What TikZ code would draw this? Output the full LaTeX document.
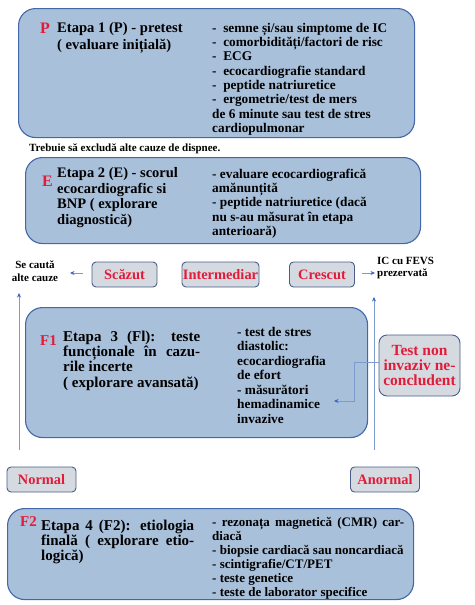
\documentclass[tikz,border=0pt]{standalone}
\usepackage{fontspec}
\setmainfont{Liberation Serif}
\usetikzlibrary{arrows.meta}
\definecolor{boxfill}{HTML}{A9C0DA}
\definecolor{boxdraw}{HTML}{4466AA}
\definecolor{smallfill}{HTML}{D5D9E0}
\definecolor{smalldraw}{HTML}{4A5E8C}
\definecolor{redtxt}{HTML}{E31B3A}
\definecolor{linec}{HTML}{7D9BD0}
\definecolor{tipc}{HTML}{3A62C8}
\newcommand{\fs}[2]{\fontsize{#1}{#2}\selectfont\bfseries}
\begin{document}
\begin{tikzpicture}[x=1pt,y=-1pt,
  stage/.style={draw=boxdraw, fill=boxfill, rounded corners=17pt, line width=1.1pt, anchor=north west, inner sep=0},
  smallbox/.style={draw=smalldraw, fill=smallfill, rounded corners=4pt, line width=0.9pt, text=redtxt, font=\fs{14.4}{16}, inner sep=0, minimum height=25pt},
  letter/.style={text=redtxt, anchor=base west, inner sep=0},
  ttl/.style={anchor=north west, align=left, inner sep=0},
  lst/.style={anchor=north west, align=left, inner sep=0, font=\fs{13.3}{14.3}},
  note/.style={inner sep=0, font=\fs{11}{12.5}},
  conn/.style={draw=linec, line width=0.8pt, -{Stealth[length=4.5pt,width=4pt,color=tipc]}}
]
\useasboundingbox (0,0) rectangle (474,605);

% Stage 1
\node[stage, minimum width=396pt, minimum height=129pt] (s1) at (18,8) {};
\node[letter, font=\fs{16}{18}] (p) at (40,33) {P};
\node[ttl, font=\fs{14.6}{17}] (t1) at (57,22.5) {Etapa 1 (P) - pretest\\( evaluare inițială)};
\node[lst] (l1) at (212,22.8) {-\ \ semne și/sau simptome de IC\\-\ \ comorbidități/factori de risc\\-\ \ ECG\\-\ \ ecocardiografie standard\\-\ \ peptide natriuretice\\-\ \ ergometrie/test de mers\\de 6 minute sau test de stres\\cardiopulmonar};

\node[note, anchor=base west] (trebuie) at (29,151.5) {Trebuie să excludă alte cauze de dispnee.};

% Stage 2
\node[stage, minimum width=395pt, minimum height=86pt] (s2) at (25,157) {};
\node[letter, font=\fs{16}{18}] (e) at (42,186) {E};
\node[ttl, font=\fs{14.5}{15.5}] (t2) at (57,167.6) {Etapa 2 (E) - scorul\\ecocardiografic si\\BNP ( explorare\\diagnostică)};
\node[lst] (l2) at (212,168.8) {- evaluare ecocardiografică\\amănunțită\\- peptide natriuretice (dacă\\nu s-au măsurat în etapa\\anterioară)};

% Result row
\node[smallbox, minimum width=65pt] (scazut) at (124.5,274.5) {Scăzut};
\node[smallbox, minimum width=77pt] (interm) at (220.5,274.5) {Intermediar};
\node[smallbox, minimum width=65pt] (crescut) at (322,274.5) {Crescut};
\node[note, align=center] (secauta) at (35,271) {Se caută\\alte cauze};
\node[note, align=left, anchor=west] (icfevs) at (377,268) {IC cu FEVS\\prezervată};
\coordinate (a1s) at (83,273);
\coordinate (a1e) at (70,273);
\draw[conn] (a1s) -- (a1e);
\coordinate (a2s) at (362,273);
\coordinate (a2e) at (375,273);
\draw[conn] (a2s) -- (a2e);

% vertical arrows
\coordinate (vl1) at (19,450);
\coordinate (vl2) at (19,293);
\draw[conn] (vl1) -- (vl2);
\coordinate (vr1) at (374,450);
\coordinate (vr2) at (374,297);
\draw[conn] (vr1) -- (vr2);

% Stage 3
\node[stage, minimum width=342pt, minimum height=130pt] (s3) at (25,307) {};
\node[letter, font=\fs{15}{17}] (f1) at (40,345) {F1};
\node[ttl, font=\fs{15}{15.3}] (t3) at (63,330.5) {\makebox[137pt][s]{Etapa 3 (Fl): teste}\\\makebox[137pt][s]{funcționale în cazu-}\\rile incerte\\( explorare avansată)};
\node[lst, font=\fs{13.3}{14.5}] (l3) at (237,326.8) {- test de stres\\diastolic:\\ecocardiografia\\de efort\\- măsurători\\hemadinamice\\invazive};

\node[smallbox, minimum width=81pt, minimum height=61pt, align=center, font=\fs{15.5}{15}, rounded corners=8pt] (test) at (419.5,365.5) {Test non\\invaziv ne-\\concludent};
\coordinate (tend) at (334,401);
\draw[conn] ([yshift=3.5pt]test.west) -- ++(-24,0) |- (tend);

% Normal / Anormal
\node[smallbox, minimum width=69pt] (normal) at (41.5,479.5) {Normal};
\node[smallbox, minimum width=69pt] (anormal) at (385,479.5) {Anormal};

% Stage 4
\node[stage, minimum width=406pt, minimum height=91pt] (s4) at (7,508) {};
\node[letter, font=\fs{15}{17}] (f2) at (20,526) {F2};
\node[ttl, font=\fs{15}{15}] (t4) at (41,519.5) {\makebox[153pt][s]{Etapa 4 (F2): etiologia}\\\makebox[153pt][s]{finală ( explorare etio-}\\logică)};
\node[lst, font=\fs{13}{14}] (l4) at (212,517) {\makebox[192pt][s]{- rezonața magnetică (CMR) car-}\\diacă\\- biopsie cardiacă sau noncardiacă\\- scintigrafie/CT/PET\\- teste genetice\\- teste de laborator specifice};
\end{tikzpicture}
\end{document}
